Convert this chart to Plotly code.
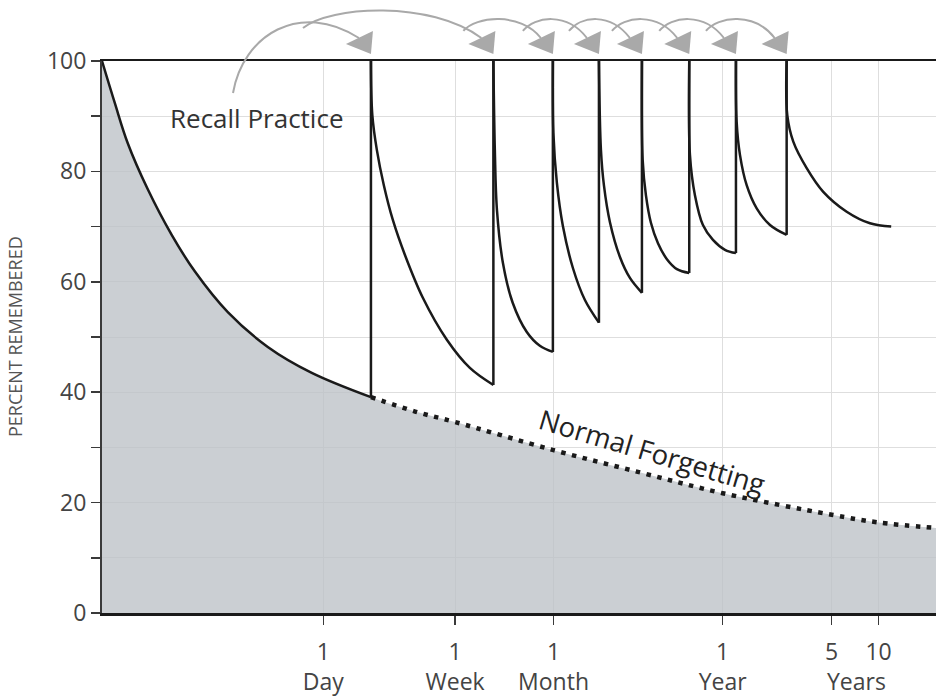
"""Spaced recall vs. normal forgetting: a log-time memory-retention chart."""

import math

import plotly.graph_objects as go

INK = "#1a1a1a"
AXIS = "#3a3a3a"
MUTED = "#444444"
GRID = "#dedede"
SHADE = "rgba(188,194,199,0.78)"
ARROW = "#a9a9a9"
FONT = "Open Sans, sans-serif"

# Time is in days on a log axis; percentages.
FORGET_DAYS = [0.038, 0.0459, 0.0556, 0.0746, 0.1064, 0.1496, 0.2438, 0.44, 0.843, 2.02]
FORGET_PCT = [100, 92.4, 85.1, 76.8, 68.5, 61.9, 54.5, 48.2, 43.5, 39.1]

NORMAL_DAYS = [2.02, 4.0, 7, 30, 110, 365, 1826, 3652, 8530]
NORMAL_PCT = [39.1, 36.4, 34.6, 29.5, 25.4, 21.7, 17.8, 16.4, 15.4]

RECALL_DAYS = [
    [2.02, 2.062, 2.204, 2.444, 2.792, 3.334, 4.349, 6.201, 8.712, 12.33],
    [12.33, 12.6, 13.0, 14.2, 16.4, 20.2, 24.5, 29.7],
    [29.7, 29.92, 31.51, 34.43, 39.92, 47.68, 58.65],
    [58.65, 60.4, 63.12, 69.0, 80.0, 92.7, 110.7],
    [110.7, 111.9, 117.4, 126.4, 140.3, 160.1, 185.6, 222.7],
    [222.7, 225.0, 242.2, 272.6, 316.1, 377.5, 444],
    [444, 448.6, 471.1, 520.2, 603.1, 733.9, 939],
    [939, 947.8, 1035.6, 1262.6, 1613, 2280, 3217, 4400],
]
RECALL_PCT = [
    [100, 90.2, 83.9, 77.5, 71.2, 64.9, 57.1, 49.5, 44.4, 41.3],
    [100, 83.9, 73, 63.4, 56.2, 50.9, 48.4, 47.3],
    [100, 87.0, 77.9, 70.1, 62.5, 56.7, 52.6],
    [100, 83.9, 77.5, 70.8, 64.5, 60.7, 58.0],
    [100, 82.1, 75.7, 70.7, 67.0, 64.1, 62.3, 61.6],
    [100, 83, 75.7, 70.3, 67.6, 65.8, 65.2],
    [100, 89, 83, 77.5, 73.3, 70.3, 68.5],
    [100, 90.2, 85.4, 80.6, 76.3, 72.7, 70.6, 70.0],
]

TICK_DAYS = [1, 7, 30, 365, 1826, 3652]
TICK_TEXT = ["1<br>Day", "1<br>Week", "1<br>Month", "1<br>Year", "5", "10"]

X_RANGE = [math.log10(FORGET_DAYS[0]), math.log10(NORMAL_DAYS[-1])]

# Plot box in page pixels, used only to place the decorative arrows and the
# free text.
L, T, W, H = 102, 61, 834, 552


def _px(day):
    return L + W * (math.log10(day) - X_RANGE[0]) / (X_RANGE[1] - X_RANGE[0])


def _pt(x, y):
    return f"{(x - L) / W:.5f},{(T + H - y) / H:.5f}"


def _arc(p0, p1, p2, p3):
    return {
        "type": "path",
        "xref": "paper",
        "yref": "paper",
        "path": f"M {_pt(*p0)} C {_pt(*p1)} {_pt(*p2)} {_pt(*p3)}",
        "line": {"color": ARROW, "width": 2},
    }


def _head(x):
    return {
        "type": "path",
        "xref": "paper",
        "yref": "paper",
        "path": f"M {_pt(x, 54)} L {_pt(x + 2, 31)} L {_pt(x - 25, 44)} Z",
        "fillcolor": ARROW,
        "line": {"width": 0},
    }


def _label(text, x, y, size, color, angle=0):
    return {
        "text": text,
        "xref": "paper",
        "yref": "paper",
        "x": (x - L) / W,
        "y": (T + H - y) / H,
        "xanchor": "center",
        "yanchor": "middle",
        "textangle": angle,
        "showarrow": False,
        "font": {"size": size, "color": color},
    }


fig = go.Figure()

fig.add_trace(
    go.Scatter(
        x=FORGET_DAYS + NORMAL_DAYS[1:],
        y=FORGET_PCT + NORMAL_PCT[1:],
        mode="lines",
        line={"width": 0, "shape": "spline"},
        fill="tozeroy",
        fillcolor=SHADE,
        hoverinfo="skip",
    )
)
fig.add_trace(
    go.Scatter(
        x=NORMAL_DAYS,
        y=NORMAL_PCT,
        mode="lines",
        line={"color": INK, "width": 4.5, "dash": "4.5px,6.5px", "shape": "spline"},
    )
)
fig.add_trace(
    go.Scatter(
        x=FORGET_DAYS,
        y=FORGET_PCT,
        mode="lines",
        line={"color": INK, "width": 2.5, "shape": "spline"},
    )
)

# Each recall snaps retention back to 100 at the segment's first day.
jump_x, jump_y = [], []
bottom = FORGET_PCT[-1]
for days, pct in zip(RECALL_DAYS, RECALL_PCT):
    jump_x += [days[0], days[0], None]
    jump_y += [bottom, 100, None]
    bottom = pct[-1]
    fig.add_trace(
        go.Scatter(
            x=days,
            y=pct,
            mode="lines",
            line={"color": INK, "width": 2.5, "shape": "spline"},
        )
    )
fig.add_trace(
    go.Scatter(x=jump_x, y=jump_y, mode="lines", line={"color": INK, "width": 2.5})
)

spikes = [_px(days[0]) for days in RECALL_DAYS]
shapes = [
    _arc((233, 93), (243, 35), (300, 0), (spikes[0] - 12, 38)),
    _arc((303, 28), (330, 6), (430, 0), (spikes[1] - 12, 38)),
]
for prev, cur in zip(spikes[1:], spikes[2:]):
    shapes.append(_arc((prev - 30, 31), (prev - 18, 16), (cur - 32, 12), (cur - 12, 38)))
shapes += [_head(x) for x in spikes]

axis_common = {
    "ticks": "outside",
    "ticklen": 9,
    "tickwidth": 1.5,
    "tickcolor": AXIS,
    "tickfont": {"size": 23, "color": MUTED},
    "showgrid": True,
    "gridcolor": GRID,
    "showline": True,
    "zeroline": False,
    "automargin": False,
}

fig.update_layout(
    width=936,
    height=696,
    margin={"l": L, "r": 936 - L - W, "t": T, "b": 696 - T - H},
    paper_bgcolor="white",
    plot_bgcolor="white",
    showlegend=False,
    hovermode=False,
    font={"family": FONT, "size": 23, "color": MUTED},
    shapes=shapes,
    xaxis={
        **axis_common,
        "type": "log",
        "range": X_RANGE,
        "tickvals": TICK_DAYS,
        "ticktext": TICK_TEXT,
        "ticklabelstandoff": 8,
        "mirror": True,
        "linecolor": INK,
        "linewidth": 2.5,
    },
    yaxis={
        **axis_common,
        "range": [0, 100],
        "tickvals": [0, 20, 40, 60, 80, 100],
        "minor": {
            "tickvals": [10, 30, 50, 70, 90],
            "ticks": "outside",
            "ticklen": 9,
            "tickwidth": 1.5,
            "tickcolor": AXIS,
            "showgrid": True,
            "gridcolor": GRID,
        },
        "linecolor": AXIS,
        "linewidth": 2,
    },
    annotations=[
        _label("Recall Practice", 256, 118, 26, "#333"),
        _label("Normal Forgetting", 652, 452, 27.5, "#222", angle=16.5),
        _label("Years", 856, 681, 23, MUTED),
        _label("PERCENT REMEMBERED", 15, 337, 18, "#555", angle=-90),
    ],
)

# Static exhibit: no toolbar. The page should be exactly the figure, so the
# browser's default body margin is dropped.
fig.write_html(
    "out.html",
    config={"displayModeBar": False, "staticPlot": True},
    post_script="document.body.style.margin = '0';",
)
